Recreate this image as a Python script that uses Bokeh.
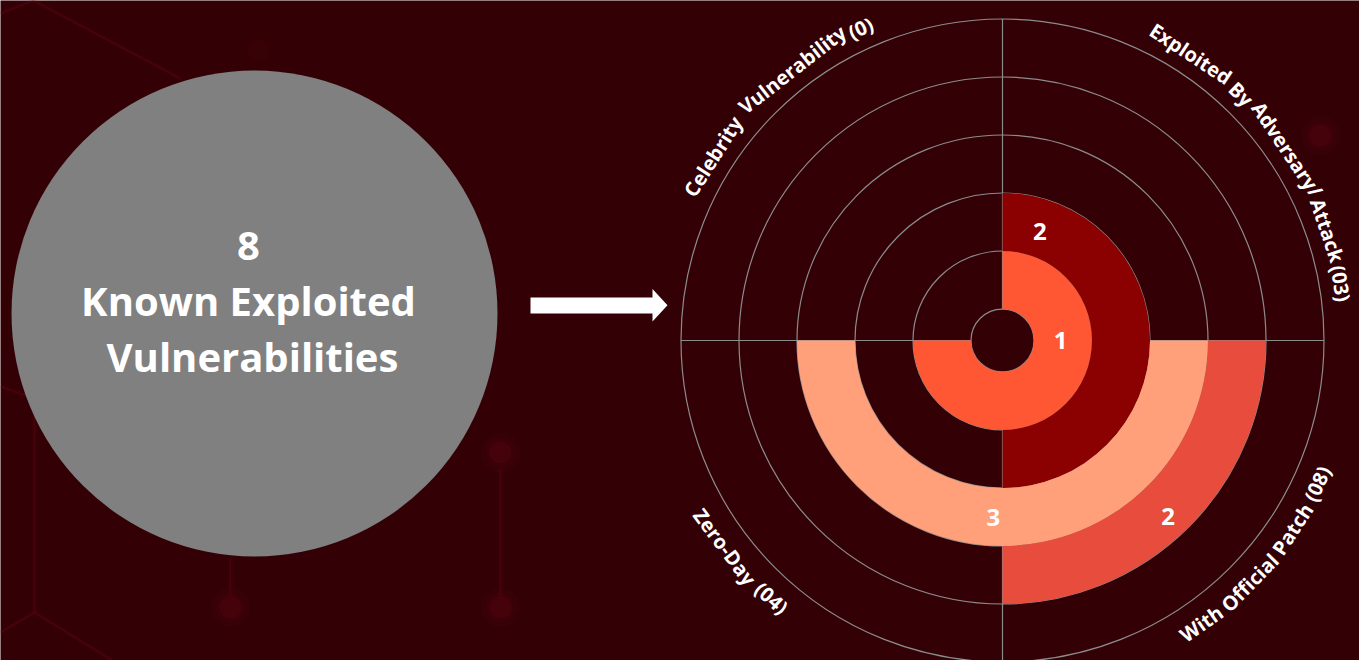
import math
from bokeh.plotting import figure
from bokeh.models import Range1d, ColumnDataSource
from bokeh.embed import file_html
from bokeh.resources import INLINE
from bokeh.core.properties import value

# ---------------- data ----------------
total_known = 8
headline_lines = ["Known Exploited", "Vulnerabilities"]

# quadrants counter-clockwise from 3 o'clock
categories = ["Exploited By Adversary/ Attack (03)",
              "Celebrity  Vulnerability (0)",
              "Zero-Day (04)",
              "With Official Patch (08)"]
category_counts = [3, 0, 4, 8]

# concentric groups (inner -> outer), their counts and category membership
group_values = [1, 2, 3, 2]
group_membership = [
    [1, 0, 1, 1],
    [1, 0, 0, 1],
    [0, 0, 1, 1],
    [0, 0, 0, 1],
]
group_colors = ["#FF5733", "#8B0000", "#FFA07A", "#E74C3C"]

# ---------------- layout ----------------
W, H = 1359, 660
BG = "#330006"
FONT = "Open Sans"


def Y(py):
    return H - py


CX, CY = 1002, Y(340)          # radial chart centre
R0, STEP, NRING = 31.5, 58.0, 5
VAL_ANG = [0.0, 71.0, -93.0, -46.7]      # angle of value label per group
VAL_DR = [-2.5, -3.5, 0.5, 7.0]          # radial nudge of value label
CAT_MID = [35.5, 133.7, 220.1, -40.1]    # mid angle of category label
CAT_FS = 20.0
BOLD_K = 1.075

p = figure(width=W, height=H, x_range=Range1d(0, W), y_range=Range1d(0, H),
           output_backend="svg", toolbar_location=None,
           x_axis_type=None, y_axis_type=None, min_border=0)
p.grid.visible = False
p.outline_line_color = None
p.background_fill_color = BG
p.border_fill_color = BG

# ---------------- faint background decoration ----------------
deco_lines = [
    ([0, 33, 180], [13, 0, 78]),
    ([0, 34, 34], [386, 398, 612]),
    ([0, 34, 112], [632, 612, 660]),
    ([500, 500], [468, 596]),
    ([230, 230], [558, 596]),
]
for xs, ys in deco_lines:
    p.line(xs, [Y(v) for v in ys], line_color="#6a0a16", line_width=5, line_alpha=0.10)
    p.line(xs, [Y(v) for v in ys], line_color="#5e0812", line_width=1.5, line_alpha=0.45)

dots = [(500, 452), (230, 607), (500, 607), (1320, 135), (258, 50)]
for i, (dx, dy) in enumerate(dots):
    a = 0.25 if i == 4 else 1.0
    for rr, al in [(20, 0.10), (15, 0.18), (11, 0.35)]:
        p.circle(x=[dx], y=[Y(dy)], radius=rr, fill_color="#5a0610",
                 fill_alpha=al * a, line_color=None)

# ---------------- left: gray disc with headline ----------------
p.circle(x=[254], y=[Y(313)], radius=243, fill_color="#808080", line_color=None)
p.text(x=[248], y=[Y(245)], text=[str(total_known)], text_align="center",
       text_baseline="middle", text_color="white", text_font=value(FONT),
       text_font_style="bold", text_font_size="40px")
p.text(x=[248, 252], y=[Y(300), Y(356)], text=headline_lines, text_align="center",
       text_baseline="middle", text_color="white", text_font=value(FONT),
       text_font_style="bold", text_font_size="40px")

# arrow
ax = [530, 652, 652, 667, 652, 652, 530]
ay = [297, 297, 288.5, 304.7, 321, 313, 313]
p.patch(ax, [Y(v) for v in ay], fill_color="white", line_color=None)

# ---------------- radial chart ----------------
# grid rings
ring_r = [R0 + k * STEP for k in range(NRING + 1)]
p.circle(x=[CX] * len(ring_r), y=[CY] * len(ring_r), radius=ring_r,
         fill_color=None, line_color="#8c8c8c", line_width=1.2)
# quadrant dividers
seg = dict(x0=[], y0=[], x1=[], y1=[])
for q in range(4):
    t = q * math.pi / 2
    seg["x0"].append(CX + R0 * math.cos(t))
    seg["y0"].append(CY + R0 * math.sin(t))
    seg["x1"].append(CX + ring_r[-1] * math.cos(t))
    seg["y1"].append(CY + ring_r[-1] * math.sin(t))
p.segment(source=ColumnDataSource(seg), x0="x0", y0="y0", x1="x1", y1="y1",
          line_color="#8c8c8c", line_width=1.2)


def runs(mask):
    n = len(mask)
    if all(mask):
        return [(0, n)]
    out = []
    for i in range(n):
        if mask[i] and not mask[i - 1]:
            j = i
            while mask[j % n]:
                j += 1
            out.append((i, j))
    return out


wd = dict(inner=[], outer=[], start=[], end=[], color=[])
for g, mask in enumerate(group_membership):
    for a0, a1 in runs(mask):
        wd["inner"].append(R0 + g * STEP)
        wd["outer"].append(R0 + (g + 1) * STEP)
        wd["start"].append(a0 * math.pi / 2)
        wd["end"].append(a1 * math.pi / 2)
        wd["color"].append(group_colors[g])
p.annular_wedge(x=CX, y=CY, inner_radius="inner", outer_radius="outer",
                start_angle="start", end_angle="end", fill_color="color",
                line_color=None, source=ColumnDataSource(wd))

# value labels
vl = dict(x=[], y=[], t=[])
for g, v in enumerate(group_values):
    r = R0 + (g + 0.5) * STEP + VAL_DR[g]
    th = math.radians(VAL_ANG[g])
    vl["x"].append(CX + r * math.cos(th))
    vl["y"].append(CY + r * math.sin(th))
    vl["t"].append(str(v))
p.text(x="x", y="y", text="t", source=ColumnDataSource(vl), text_align="center",
       text_baseline="middle", text_color="white", text_font=value(FONT),
       text_font_style="bold", text_font_size="24px")

# curved category labels (placed word by word along the outer ring)
OSW = {" ": .26, "a": .556, "b": .613, "c": .476, "d": .613, "e": .561, "f": .339,
       "h": .614, "i": .253, "k": .525, "l": .253, "n": .614, "o": .604, "p": .613,
       "r": .408, "s": .477, "t": .353, "u": .614, "v": .501, "x": .524, "y": .502,
       "A": .633, "B": .656, "C": .631, "D": .728, "E": .549, "O": .781, "P": .603,
       "V": .592, "W": .928, "Z": .565, "(": .275, ")": .275, "/": .367, "-": .322}


def tw(s):
    return sum(OSW.get(ch, .572) for ch in s) * CAT_FS * BOLD_K


cl = dict(x=[], y=[], t=[], a=[])
for cat, mid in zip(categories, CAT_MID):
    top = 0 < mid < 180
    r = 343.0 if top else 346.0
    m = math.radians(mid)
    s = -tw(cat) / 2
    for word in cat.split(" "):
        w = tw(word)
        if word:
            sc = s + w / 2
            if top:
                th = m - sc / r
                rot = th - math.pi / 2
            else:
                th = m + sc / r
                rot = th + math.pi / 2
            cl["x"].append(CX + r * math.cos(th))
            cl["y"].append(CY + r * math.sin(th))
            cl["t"].append(word)
            cl["a"].append(rot)
        s += w + tw(" ")
p.text(x="x", y="y", text="t", angle="a", source=ColumnDataSource(cl),
       text_align="center", text_baseline="middle", text_color="white",
       text_font=value(FONT), text_font_style="bold",
       text_font_size="%dpx" % CAT_FS)

open("out.html", "w").write(file_html(p, INLINE))
